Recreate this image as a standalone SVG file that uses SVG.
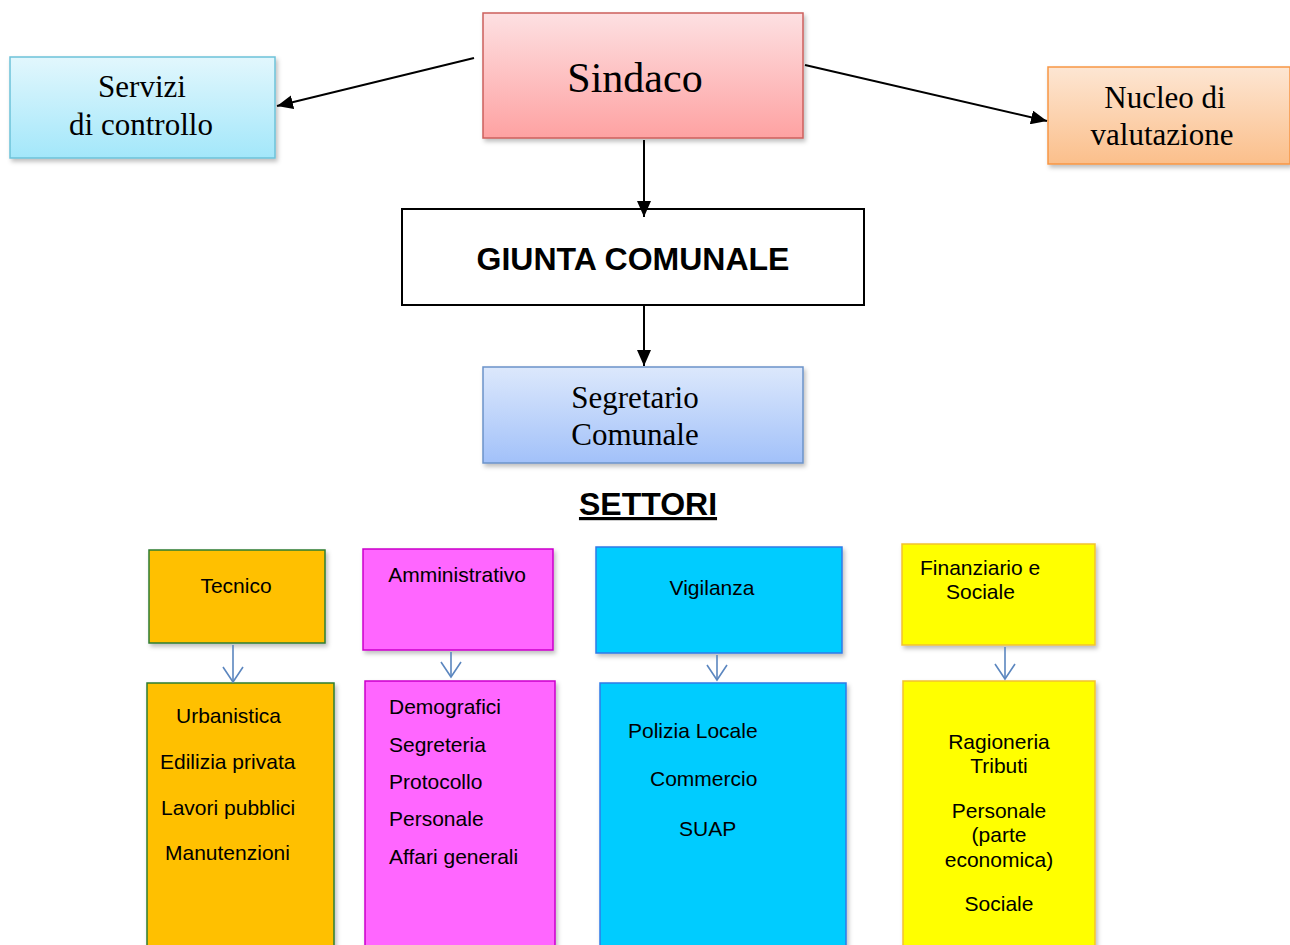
<svg xmlns="http://www.w3.org/2000/svg" width="1290" height="945" viewBox="0 0 1290 945">
<defs>
<style>
.serif{font-family:"Liberation Serif","Times New Roman",serif;fill:#000;text-anchor:middle}
.sans{font-family:"Liberation Sans",Arial,sans-serif;fill:#000}
.sm{font-size:21px}
.mid{text-anchor:middle}
.conn{stroke:#000;stroke-width:2;fill:none}
.blue{stroke:#5b86bf;stroke-width:1.6;fill:none}
</style>
<linearGradient id="gCyan" x1="0" y1="0" x2="0" y2="1"><stop offset="0" stop-color="#e2f7fd"/><stop offset="1" stop-color="#a3e7fa"/></linearGradient>
<linearGradient id="gRed" x1="0" y1="0" x2="0" y2="1"><stop offset="0" stop-color="#fde0e2"/><stop offset="1" stop-color="#fea2a2"/></linearGradient>
<linearGradient id="gOrange" x1="0" y1="0" x2="0" y2="1"><stop offset="0" stop-color="#fde6d3"/><stop offset="1" stop-color="#fbbf8b"/></linearGradient>
<linearGradient id="gBlue" x1="0" y1="0" x2="0" y2="1"><stop offset="0" stop-color="#dce8fc"/><stop offset="1" stop-color="#a2c1f9"/></linearGradient>
<filter id="sh" x="-10%" y="-10%" width="125%" height="130%"><feDropShadow dx="2" dy="3" stdDeviation="2" flood-color="#000" flood-opacity="0.25"/></filter>
<marker id="ah" viewBox="0 0 16 14" refX="16" refY="7" markerWidth="16" markerHeight="14" markerUnits="userSpaceOnUse" orient="auto"><path d="M0,0 L16,7 L0,14 z" fill="#000"/></marker>
<marker id="ahb" markerWidth="18" markerHeight="22" refX="16" refY="11" markerUnits="userSpaceOnUse" orient="auto"><path d="M1,1 L16,11 L1,21" fill="none" stroke="#5b86bf" stroke-width="1.6"/></marker>
</defs>
<rect width="1290" height="945" fill="#fff"/>

<g id="servizi">
<rect x="10" y="57" width="265" height="101" fill="url(#gCyan)" stroke="#6cc2d9" stroke-width="1.5" filter="url(#sh)"/>
<text class="serif" x="142" y="97" font-size="31">Servizi</text>
<text class="serif" x="141" y="135" font-size="31">di controllo</text>
</g>

<g id="sindaco">
<rect x="483" y="13" width="320" height="125" fill="url(#gRed)" stroke="#cc5f5c" stroke-width="1.5" filter="url(#sh)"/>
<text class="serif" x="635" y="92" font-size="42">Sindaco</text>
</g>

<g id="nucleo">
<rect x="1048" y="67" width="242" height="97" fill="url(#gOrange)" stroke="#f79646" stroke-width="1.5" filter="url(#sh)"/>
<text class="serif" x="1165" y="108" font-size="31">Nucleo di</text>
<text class="serif" x="1162" y="145" font-size="31">valutazione</text>
</g>

<g id="giunta">
<rect x="402" y="209" width="462" height="96" fill="#fff" stroke="#000" stroke-width="2"/>
<text class="sans mid" x="633" y="270" font-size="32" font-weight="bold">GIUNTA COMUNALE</text>
</g>

<g id="segretario">
<rect x="483" y="367" width="320" height="96" fill="url(#gBlue)" stroke="#6b93c9" stroke-width="1.5" filter="url(#sh)"/>
<text class="serif" x="635" y="408" font-size="31">Segretario</text>
<text class="serif" x="635" y="445" font-size="31">Comunale</text>
</g>

<g id="settori">
<text class="sans mid" x="648" y="515" font-size="32" font-weight="bold" text-decoration="underline">SETTORI</text>
</g>

<g id="tecnico">
<rect x="149" y="550" width="176" height="93" fill="#ffc000" stroke="#2e7d32" stroke-width="1.5" filter="url(#sh)"/>
<text class="sans sm mid" x="236" y="593">Tecnico</text>
</g>
<g id="tecnico-list">
<rect x="147" y="683" width="187" height="270" fill="#ffc000" stroke="#2e7d32" stroke-width="1.5" filter="url(#sh)"/>
<text class="sans sm" x="176" y="723">Urbanistica</text>
<text class="sans sm" x="160" y="769">Edilizia privata</text>
<text class="sans sm" x="161" y="815">Lavori pubblici</text>
<text class="sans sm" x="165" y="860">Manutenzioni</text>
</g>

<g id="amministrativo">
<rect x="363" y="549" width="190" height="101" fill="#ff66ff" stroke="#cc00cc" stroke-width="1.5" filter="url(#sh)"/>
<text class="sans sm mid" x="457" y="582">Amministrativo</text>
</g>
<g id="amministrativo-list">
<rect x="365" y="681" width="190" height="272" fill="#ff66ff" stroke="#cc00cc" stroke-width="1.5" filter="url(#sh)"/>
<text class="sans sm" x="389" y="714">Demografici</text>
<text class="sans sm" x="389" y="752">Segreteria</text>
<text class="sans sm" x="389" y="789">Protocollo</text>
<text class="sans sm" x="389" y="826">Personale</text>
<text class="sans sm" x="389" y="864">Affari generali</text>
</g>

<g id="vigilanza">
<rect x="596" y="547" width="246" height="106" fill="#00ccff" stroke="#2f7be8" stroke-width="1.5" filter="url(#sh)"/>
<text class="sans sm mid" x="712" y="595">Vigilanza</text>
</g>
<g id="vigilanza-list">
<rect x="600" y="683" width="246" height="270" fill="#00ccff" stroke="#2f7be8" stroke-width="1.5" filter="url(#sh)"/>
<text class="sans sm" x="628" y="738">Polizia Locale</text>
<text class="sans sm" x="650" y="786">Commercio</text>
<text class="sans sm" x="679" y="836">SUAP</text>
</g>

<g id="finanziario">
<rect x="902" y="544" width="193" height="101" fill="#ffff00" stroke="#f2c230" stroke-width="1.5" filter="url(#sh)"/>
<text class="sans sm" x="920" y="575">Finanziario e</text>
<text class="sans sm" x="946" y="599">Sociale</text>
</g>
<g id="finanziario-list">
<rect x="903" y="681" width="192" height="272" fill="#ffff00" stroke="#f2c230" stroke-width="1.5" filter="url(#sh)"/>
<text class="sans sm mid" x="999" y="749">Ragioneria</text>
<text class="sans sm mid" x="999" y="773">Tributi</text>
<text class="sans sm mid" x="999" y="818">Personale</text>
<text class="sans sm mid" x="999" y="842">(parte</text>
<text class="sans sm mid" x="999" y="867">economica)</text>
<text class="sans sm mid" x="999" y="911">Sociale</text>
</g>

<g id="connectors">
<line class="conn" x1="474" y1="58" x2="277" y2="106" marker-end="url(#ah)"/>
<line class="conn" x1="805" y1="65" x2="1047" y2="121" marker-end="url(#ah)"/>
<line class="conn" x1="644" y1="140" x2="644" y2="217" marker-end="url(#ah)"/>
<line class="conn" x1="644" y1="306" x2="644" y2="366" marker-end="url(#ah)"/>
<line class="blue" x1="233" y1="645" x2="233" y2="682" marker-end="url(#ahb)"/>
<line class="blue" x1="451" y1="652" x2="451" y2="677" marker-end="url(#ahb)"/>
<line class="blue" x1="717" y1="655" x2="717" y2="680" marker-end="url(#ahb)"/>
<line class="blue" x1="1005" y1="647" x2="1005" y2="679" marker-end="url(#ahb)"/>
</g>
</svg>
